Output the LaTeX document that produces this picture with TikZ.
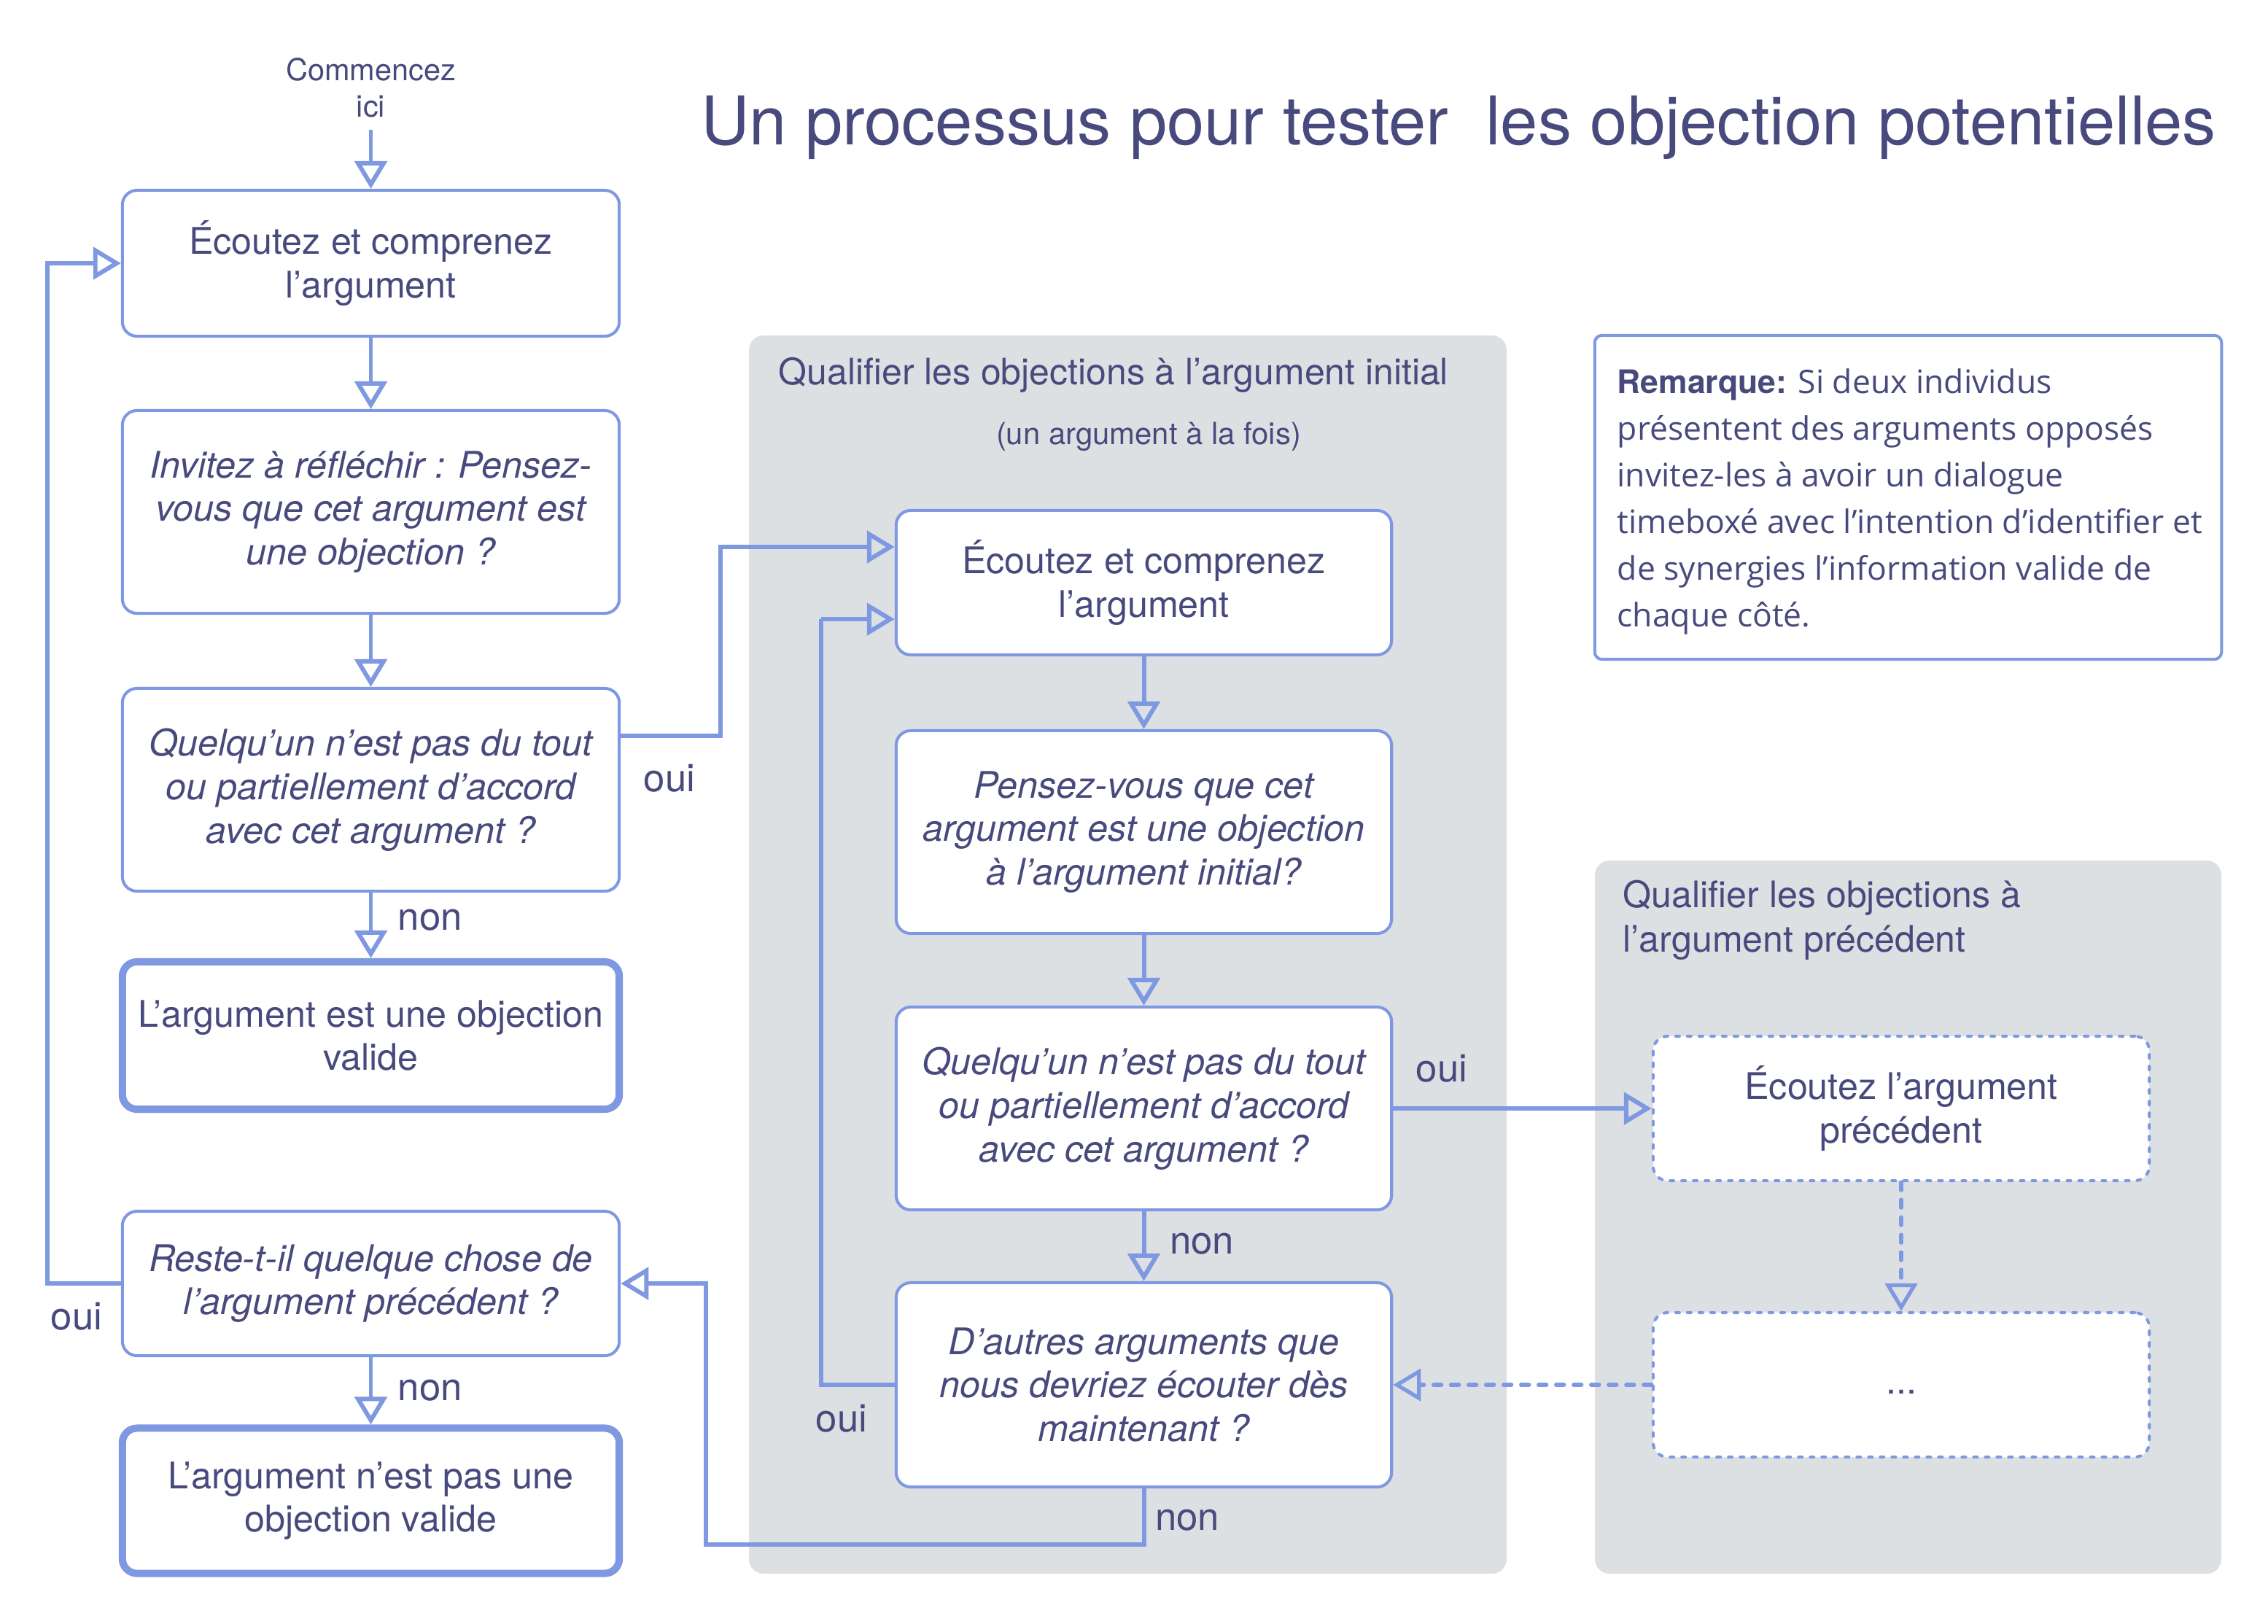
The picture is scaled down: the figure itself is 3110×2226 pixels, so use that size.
\documentclass[tikz,border=0pt]{standalone}
\usepackage{fontspec}
\setmainfont{TeX Gyre Heros}
\newfontfamily\remfont{Open Sans}
\usetikzlibrary{arrows.meta,calc}
\definecolor{txt}{RGB}{72,74,125}
\definecolor{ln}{RGB}{126,152,225}
\definecolor{panel}{RGB}{221,224,226}
\begin{document}
\begin{tikzpicture}[x=0.01cm,y=-0.01cm,
  box/.style={draw=ln, line width=1.15pt, rounded corners=0.2cm, fill=white,
    minimum width=6.81cm, text=txt, align=center,
    font=\fontsize{14.3}{17}\selectfont, inner sep=0pt},
  itbox/.style={box, font=\fontsize{14.3}{17}\selectfont\itshape},
  thickbox/.style={box, line width=2.85pt},
  dbox/.style={box, line cap=round, dash pattern=on 0.05cm off 0.11cm},
  arr/.style={draw=ln, line width=1.7pt, -{Triangle[open,length=0.38cm,width=0.44cm]}},
  darr/.style={arr, line width=1.5pt, line cap=round, dash pattern=on 0.11cm off 0.13cm},
  lbl/.style={text=txt, font=\fontsize{15}{18}\selectfont, inner sep=0pt},
  ttl/.style={text=txt, inner sep=0pt}
]
\useasboundingbox (0,0) rectangle (3110,2226);
\fill[white] (0,0) rectangle (3110,2226);

% panels
\fill[panel, rounded corners=0.2cm] (1027,460) rectangle (2066,2158);
\fill[panel, rounded corners=0.2cm] (2187,1180) rectangle (3046,2158);

% titles
\node[ttl, font=\fontsize{26.2}{30}\selectfont] (title) at (2000,175) {Un processus pour tester\ \ les objection potentielles};
\node[ttl, font=\fontsize{11.8}{14.2}\selectfont, align=center] (start) at (508.5,120) {Commencez\\ici};
\coordinate (s0) at (508.5,178);
\node[ttl, font=\fontsize{14.2}{17}\selectfont, anchor=west] (p1t) at (1067,514) {Qualifier les objections à l’argument initial};
\node[ttl, font=\fontsize{11.9}{14}\selectfont] (p1s) at (1575,599) {(un argument à la fois)};
\node[ttl, font=\fontsize{14.25}{17.3}\selectfont, anchor=west, align=left] (p2t) at (2225,1262) {Qualifier les objections à\\l’argument précédent};

% remark
\node[draw=ln, line width=1.15pt, rounded corners=0.1cm, minimum width=8.59cm, minimum height=4.44cm] (rem) at (2616.5,682) {};
\node[ttl, anchor=west, align=left, font=\remfont\fontsize{12.65}{18.2}\selectfont] (remtxt) at (2217,688)
  {{\rmfamily\bfseries Remarque:} Si deux individus\\présentent des arguments opposés\\invitez-les à avoir un dialogue\\timeboxé avec l’intention d’identifier et\\de synergies l’information valide de\\chaque côté.};

% left column
\node[box, minimum height=2cm] (L1) at (508.5,361) {Écoutez et comprenez\\l’argument};
\node[itbox, minimum height=2.78cm] (L2) at (508.5,702) {Invitez à réfléchir : Pensez-\\vous que cet argument est\\une objection ?};
\node[itbox, minimum height=2.78cm] (L3) at (508.5,1083) {Quelqu’un n’est pas du tout\\ou partiellement d’accord\\avec cet argument ?};
\node[thickbox, minimum height=2.02cm] (L4) at (508.5,1420) {L’argument est une objection\\valide};
\node[itbox, minimum height=1.98cm] (L5) at (508.5,1760) {Reste-t-il quelque chose de\\l’argument précédent ?};
\node[thickbox, minimum height=1.99cm] (L6) at (508.5,2058) {L’argument n’est pas une\\objection valide};

% middle column
\node[box, minimum width=6.79cm, minimum height=1.98cm] (M1) at (1568.5,799) {Écoutez et comprenez\\l’argument};
\node[itbox, minimum width=6.79cm, minimum height=2.78cm] (M2) at (1568.5,1141) {Pensez-vous que cet\\argument est une objection\\à l’argument initial?};
\node[itbox, minimum width=6.79cm, minimum height=2.78cm] (M3) at (1568.5,1520) {Quelqu’un n’est pas du tout\\ou partiellement d’accord\\avec cet argument ?};
\node[itbox, minimum width=6.79cm, minimum height=2.8cm] (M4) at (1568.5,1899) {D’autres arguments que\\nous devriez écouter dès\\maintenant ?};

% right column
\node[dbox, minimum width=6.8cm, minimum height=1.98cm] (R1) at (2607,1520) {Écoutez l’argument\\précédent};
\node[dbox, minimum width=6.8cm, minimum height=1.98cm, text depth=0pt] (R2) at (2607,1899) {\raisebox{-0.12cm}{...}};

% connectors
\draw[arr] (s0) -- (L1.north);
\draw[arr] (L1.south) -- (L2.north);
\draw[arr] (L2.south) -- (L3.north);
\draw[arr] (L3.south) -- (L4.north);
\draw[arr] (L5.south) -- (L6.north);
\draw[arr] (M1.south) -- (M2.north);
\draw[arr] (M2.south) -- (M3.north);
\draw[arr] (M3.south) -- (M4.north);
\draw[arr] (M3.east) -- (R1.west);
\draw[darr] (R1.south) -- (R2.north);
\draw[darr] (R2.west) -- (M4.east);

\coordinate (c1) at (988,750);
\draw[arr] ([yshift=0.74cm]L3.east) -| (c1) |- ([yshift=0.49cm]M1.west);
\coordinate (c2) at (1126,849);
\draw[arr] (M4.west) -| (c2) |- ([yshift=-0.5cm]M1.west);
\coordinate (c3) at (968,2118);
\draw[arr] (M4.south) |- (c3) |- (L5.east);
\coordinate (c4) at (65,361);
\draw[arr] (L5.west) -| (c4) |- (L1.west);

% labels
\node[lbl, anchor=west] (n1) at (545,1262) {non};
\node[lbl, anchor=west] (n2) at (545,1907) {non};
\node[lbl] (o1) at (918,1067) {oui};
\node[lbl] (o2) at (1154,1945) {oui};
\node[lbl] (n3) at (1628,2085) {non};
\node[lbl] (o3) at (105,1805) {oui};
\node[lbl] (o4) at (1977,1465) {oui};
\node[lbl] (n4) at (1648,1706) {non};
\end{tikzpicture}
\end{document}
